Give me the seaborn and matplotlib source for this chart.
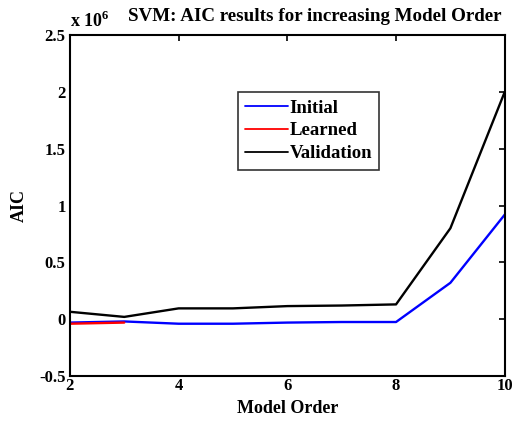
import numpy as np
import pandas as pd
import matplotlib
matplotlib.use("Agg")
import matplotlib.pyplot as plt
import seaborn as sns
from matplotlib.ticker import FuncFormatter, MultipleLocator

# Data (AIC values)
orders = [2, 3, 4, 5, 6, 7, 8, 9, 10]
initial = [-0.03e6, -0.02e6, -0.04e6, -0.04e6, -0.03e6, -0.025e6, -0.025e6, 0.32e6, 0.92e6]
learned_orders = [2, 3]
learned = [-0.04e6, -0.03e6]
validation = [0.065e6, 0.02e6, 0.095e6, 0.095e6, 0.115e6, 0.12e6, 0.13e6, 0.80e6, 2.0e6]

series_names = ["Initial", "Learned", "Validation"]
colors = {"Initial": "#0000ff", "Learned": "#ff0000", "Validation": "#000000"}

df = pd.concat([
    pd.DataFrame({"order": orders, "AIC": initial, "series": "Initial"}),
    pd.DataFrame({"order": learned_orders, "AIC": learned, "series": "Learned"}),
    pd.DataFrame({"order": orders, "AIC": validation, "series": "Validation"}),
], ignore_index=True)

sns.set_style("white")
plt.rcParams["font.family"] = ["Liberation Serif", "DejaVu Serif"]
plt.rcParams["font.weight"] = "bold"
plt.rcParams["text.color"] = "black"
plt.rcParams["axes.labelcolor"] = "black"
plt.rcParams["mathtext.fontset"] = "custom"
plt.rcParams["mathtext.bf"] = "Liberation Serif:bold"
plt.rcParams["mathtext.rm"] = "Liberation Serif:bold"

fig = plt.figure(figsize=(5.14, 4.22), dpi=100)
ax = fig.add_axes([0.136, 0.109, 0.846, 0.808])

sns.lineplot(data=df, x="order", y="AIC", hue="series", hue_order=series_names,
             palette=colors, linewidth=1.7, ax=ax, legend=True, sort=False,
             estimator=None)

ax.set_xlim(2, 10)
ax.set_ylim(-0.5e6, 2.5e6)
ax.xaxis.set_major_locator(MultipleLocator(2))
ax.yaxis.set_major_locator(MultipleLocator(0.5e6))
ax.yaxis.set_major_formatter(FuncFormatter(lambda v, p: "%g" % (v / 1e6)))

ax.tick_params(direction="in", top=True, right=True, length=4, width=1.2,
               labelsize=12, colors="black")
ax.tick_params(axis="x", pad=1.5)
ax.tick_params(axis="y", pad=3)
for lab in ax.get_xticklabels() + ax.get_yticklabels():
    lab.set_fontweight("bold")
for s in ax.spines.values():
    s.set_color("black")
    s.set_linewidth(1.5)

ax.set_xlabel("Model Order", fontsize=13, fontweight="bold", labelpad=4, color="black")
ax.set_ylabel("AIC", fontsize=13, fontweight="bold", labelpad=8, color="black")
ax.set_title("SVM: AIC results for increasing Model Order", fontsize=13.7,
             fontweight="bold", pad=10, x=0.562, color="black")
ax.text(0.0, 1.012, r"x 10$^{\mathbf{6}}$", transform=ax.transAxes, fontsize=13,
        fontweight="bold", ha="left", va="bottom", color="black")

leg = ax.legend(loc="upper left", bbox_to_anchor=(0.386, 0.833), frameon=True,
                fancybox=False, edgecolor="black", fontsize=13.5,
                handlelength=2.3, handletextpad=0.05, borderpad=0.4,
                labelspacing=0.3, borderaxespad=0)
leg.get_frame().set_linewidth(1.2)
for t in leg.get_texts():
    t.set_fontweight("bold")
    t.set_color("black")
for l in leg.get_lines():
    l.set_linewidth(1.3)

fig.patch.set_facecolor("white")
fig.savefig("out.png", dpi=100, facecolor="white")
